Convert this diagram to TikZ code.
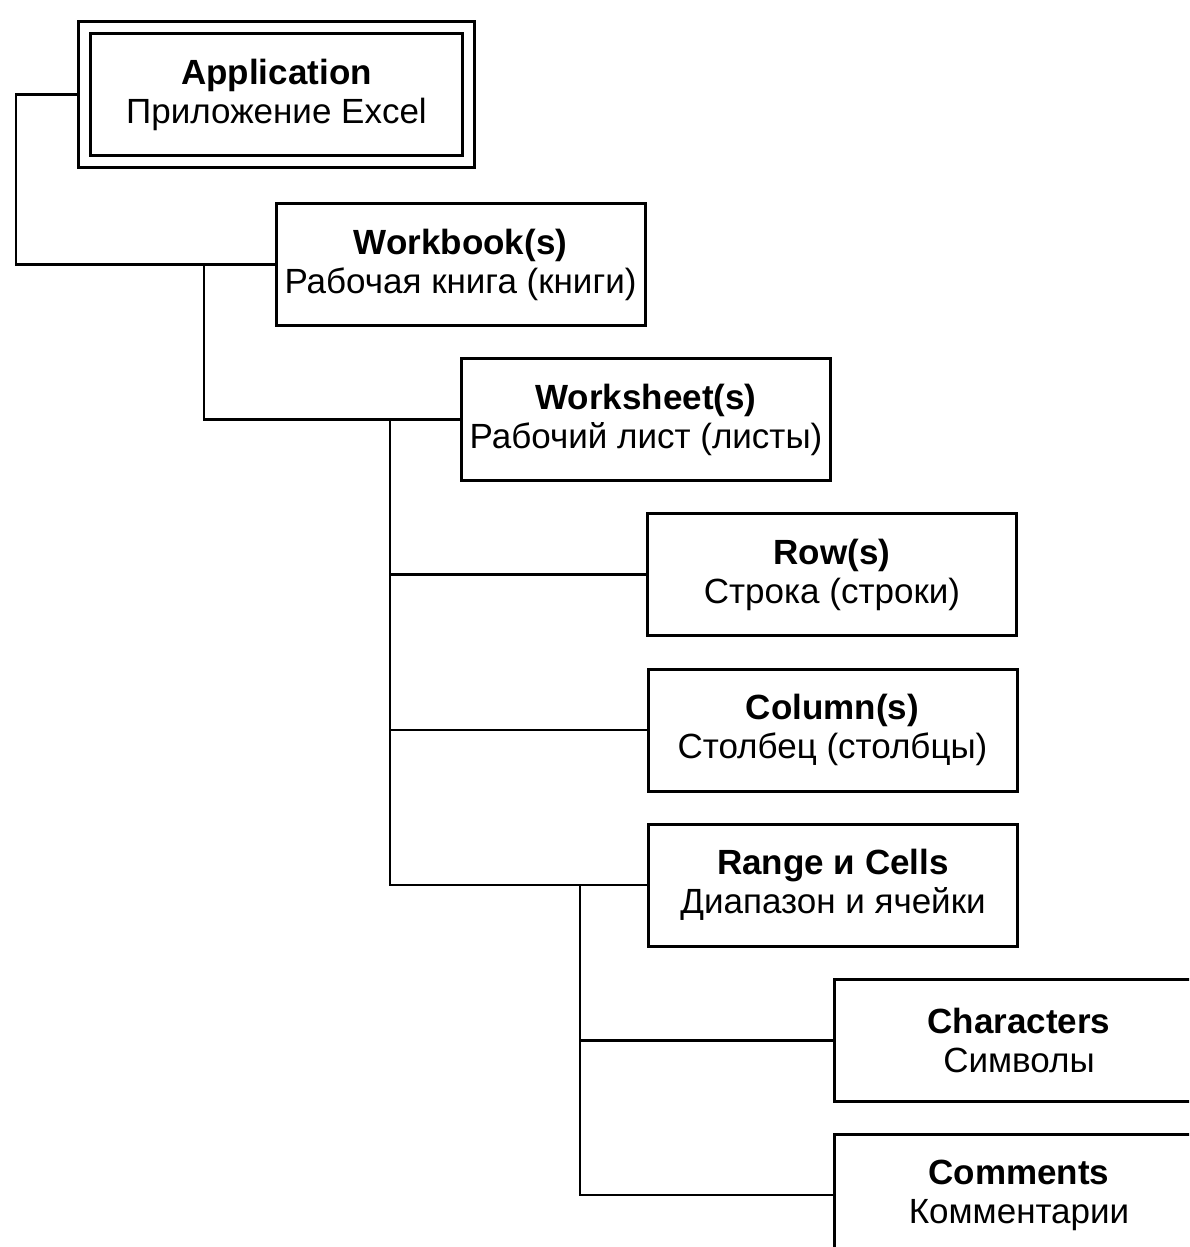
\documentclass[tikz,border=0pt]{standalone}
\usepackage{fontspec}
\setmainfont{Liberation Sans}
\begin{document}
\begin{tikzpicture}[
        x=0.5pt, y=-0.5pt,
        box/.style={rectangle,draw,line width=1.5pt,minimum width=184.5pt,minimum height=61pt,
            inner sep=0pt,align=center,font=\fontsize{17.5}{19.5}\selectfont},
        link/.style={line width=1.25pt}
    ]
        \useasboundingbox (0,0) rectangle (1189,1247);
        \clip (0,0) rectangle (1189,1247);

        % Objects
        \node[box,double,double distance=4.5pt,outer sep=3.75pt,minimum width=192pt,minimum height=67pt]
            (app) at (276.5,94.5) {\textbf{Application}\\Приложение Excel};
        \node[box] (wb) at (460.5,264.5) {\textbf{Workbook(s)}\\Рабочая книга (книги)};
        \node[box] (ws) at (646,419.5) {\textbf{Worksheet(s)}\\Рабочий лист (листы)};
        \node[box] (row) at (832,574.5) {\textbf{Row(s)}\\Строка (строки)};
        \node[box] (col) at (832.5,730) {\textbf{Column(s)}\\Столбец (столбцы)};
        \node[box] (rng) at (833,885) {\textbf{Range и Cells}\\Диапазон и ячейки};
        \node[box] (chr) at (1019,1040.5) {\textbf{Characters}\\Символы};
        \node[box] (cmt) at (1019,1195) {\textbf{Comments}\\Комментарии};

        % Branch points
        \coordinate (j0) at (16,264.5);
        \coordinate (j1) at (204,264.5);
        \coordinate (j2) at (390,419.5);
        \coordinate (j3) at (580,885);

        % Tree lines
        \draw[link] (app.west) -| (j0) |- (wb.west);
        \draw[link] (j1) |- (ws.west);
        \draw[link] (j2) |- (row.west);
        \draw[link] (j2) |- (col.west);
        \draw[link] (j2) |- (rng.west);
        \draw[link] (j3) |- (chr.west);
        \draw[link] (j3) |- (cmt.west);
    \end{tikzpicture}
\end{document}
